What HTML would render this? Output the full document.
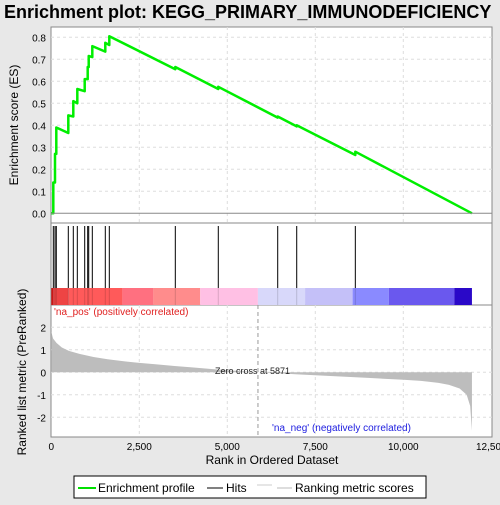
<!DOCTYPE html>
<html><head><meta charset="utf-8"><style>
body{margin:0;background:#e8e8e8;font-family:"Liberation Sans",sans-serif;}
svg text{font-family:"Liberation Sans",sans-serif;}
</style></head><body>
<svg id="c" width="500" height="500" xmlns="http://www.w3.org/2000/svg">
<rect width="500" height="500" fill="#e8e8e8"/>
<text x="4" y="18" font-size="18" font-weight="bold" text-anchor="start" fill="#000">Enrichment plot: KEGG_PRIMARY_IMMUNODEFICIENCY</text>
<rect x="51" y="27" width="441" height="196" fill="#fff" stroke="#888"/>
<rect x="51" y="223" width="441" height="82" fill="#fff" stroke="#888"/>
<rect x="51" y="305" width="441" height="132" fill="#fff" stroke="#888"/>
<g id="grid"></g><g id="bars"></g><g id="metric"></g><g id="hits"></g><g id="es"></g><g id="axes"></g>
<text x="18" y="125" font-size="12" transform="rotate(-90 18 125)" text-anchor="middle">Enrichment score (ES)</text>
<text x="26" y="372" font-size="12" transform="rotate(-90 26 372)" text-anchor="middle">Ranked list metric (PreRanked)</text>
<text x="272" y="464" font-size="12" text-anchor="middle">Rank in Ordered Dataset</text>
<text x="54" y="315" font-size="10" fill="#e02020">'na_pos' (positively correlated)</text>
<text x="272" y="431" font-size="10" fill="#2020e0">'na_neg' (negatively correlated)</text>
<text x="215" y="374" font-size="9" fill="#222">Zero cross at 5871</text>
<g>
<rect x="74" y="476" width="352" height="22" fill="#fff" stroke="#000"/>
<line x1="78" y1="488" x2="96" y2="488" stroke="#00e000" stroke-width="2"/>
<text x="98" y="492" font-size="12">Enrichment profile</text>
<line x1="207" y1="488" x2="223" y2="488" stroke="#000"/>
<text x="226" y="492" font-size="12">Hits</text>
<line x1="257" y1="485" x2="272" y2="485" stroke="#ccc"/>
<line x1="277" y1="488" x2="292" y2="488" stroke="#bbb"/>
<text x="295" y="492" font-size="12">Ranking metric scores</text>
</g>
</svg>
<script>
const hitRanks=[57,105,142,483,625,739,949,1034,1063,1165,1534,1648,3523,4744,6432,6972,8637];
const esBefore=[0,0.14,0.27,0.365,0.44,0.50,0.555,0.61,0.665,0.71,0.735,0.765,0.655,0.565,0.435,0.395,0.265];
const esAfter=[0.14,0.27,0.39,0.445,0.51,0.565,0.61,0.665,0.715,0.76,0.775,0.805,0.665,0.575,0.44,0.40,0.28];
const totalRanks=11950;
const metricRanks=[0,50,150,300,500,800,1200,1600,2000,2500,3000,3500,4000,4500,5000,5500,5871,6500,7000,7500,8000,8500,9000,9500,10000,10500,11000,11300,11600,11800,11900,11950];
const metricVals=[1.8,1.5,1.3,1.1,0.95,0.82,0.68,0.58,0.5,0.42,0.35,0.28,0.22,0.15,0.09,0.04,0,-0.05,-0.09,-0.13,-0.17,-0.21,-0.25,-0.29,-0.33,-0.38,-0.47,-0.56,-0.72,-1.0,-1.5,-2.6];
const xTicks=[0,2500,5000,7500,10000,12500];
const xTickLabels=["0","2,500","5,000","7,500","10,000","12,500"];
const esTicks=[0,0.1,0.2,0.3,0.4,0.5,0.6,0.7,0.8];
const metricTicks=[2,1,0,-1,-2];
const barStarts=[0,50,483,2020,2900,4230,5870,7210,8560,9590,11450];
const barEnds=[50,483,2020,2900,4230,5870,7210,8560,9590,11450,11950];
const barColors=["#d01818","#ee4444","#ff5a5a","#ff7080","#ff8c8c","#ffc0e4","#d8d8fa","#c4c0f8","#8a8aff","#6a58ee","#2a08c8"];
const NS="http://www.w3.org/2000/svg";
const X=r=>51.3+r*440/12500, YE=v=>213.3-v*220, YM=v=>372.3-v*22.5;
function mk(p,t,a){const e=document.createElementNS(NS,t);for(const k in a)e.setAttribute(k,a[k]);document.getElementById(p).appendChild(e);return e;}
xTicks.forEach((t,i)=>{
 if(i>0&&i<5){const g1=mk('grid','line',{x1:X(t),x2:X(t),y1:27,y2:223,stroke:'#ddd','stroke-dasharray':'3,3'});
 
 const g2=mk('grid','line',{x1:X(t),x2:X(t),y1:305,y2:437,stroke:'#ddd','stroke-dasharray':'3,3'});
 }
 const tl=mk('axes','text',{x:X(t),y:450,'font-size':10,'text-anchor':'middle'});tl.textContent=xTickLabels[i];
 
});
esTicks.forEach(t=>{const y=YE(t);
 if(t>0){const g=mk('grid','line',{x1:51,x2:492,y1:y,y2:y,stroke:'#ddd','stroke-dasharray':'3,3'});}
 const tl=mk('axes','text',{x:46,y:y+4,'font-size':10,'text-anchor':'end'});tl.textContent=t.toFixed(1);
 });
mk('axes','line',{x1:51,x2:492,y1:YE(0),y2:YE(0),stroke:'#888'});
metricTicks.forEach(t=>{const y=YM(t);
 const g=mk('grid','line',{x1:51,x2:492,y1:y,y2:y,stroke:'#ddd','stroke-dasharray':'3,3'});
 const tl=mk('axes','text',{x:46,y:y+4,'font-size':10,'text-anchor':'end'});tl.textContent=String(t);
 });
const zl=mk('grid','line',{x1:X(5871),x2:X(5871),y1:305,y2:437,stroke:'#999','stroke-dasharray':'4,3'});

barStarts.forEach((s,i)=>{const r=mk('bars','rect',{x:X(s),y:288,width:X(barEnds[i])-X(s),height:17,fill:barColors[i]});
 });
let d='M'+X(0)+','+YM(0);
metricRanks.forEach((r,i)=>{d+='L'+X(r)+','+YM(metricVals[i]);});
d+='L'+X(totalRanks)+','+YM(0)+'Z';
const ma=mk('metric','path',{d:d,fill:'#bdbdbd'});
hitRanks.forEach(r=>{const l=mk('hits','line',{x1:X(r),x2:X(r),y1:226,y2:288,stroke:'#000','stroke-width':1});
 
 const l2=mk('hits','line',{x1:X(r),x2:X(r),y1:288,y2:305,stroke:'rgba(0,0,0,0.15)'});
 });
let p='M'+X(0)+','+YE(0);
hitRanks.forEach((r,i)=>{p+='L'+X(r)+','+YE(esBefore[i])+'L'+X(r)+','+YE(esAfter[i]);});
p+='L'+X(totalRanks)+','+YE(0);
const es=mk('es','path',{d:p,fill:'none',stroke:'#00ee00','stroke-width':2.5,'stroke-linejoin':'round'});

</script>
</body></html>
